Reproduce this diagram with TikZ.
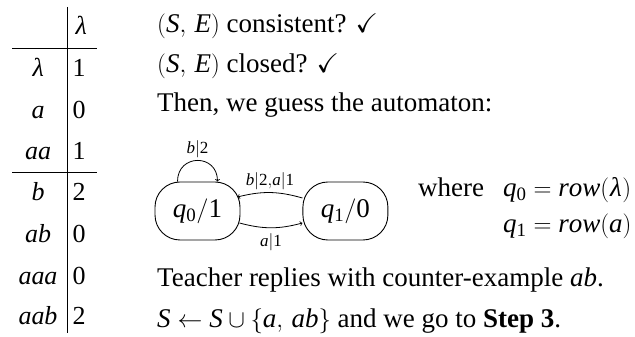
\documentclass[tikz,border=0pt]{standalone}
\usepackage{amssymb}
\usepackage{mathspec}
\setmainfont{Liberation Serif}
\setmathsfont(Digits,Latin,Greek){Liberation Serif}
\usetikzlibrary{positioning, calc}
\tikzset{
  txt/.style      = {anchor=base west, inner sep=0pt, font=\fontsize{27}{32}\selectfont},
  cell/.style     = {anchor=base, inner sep=0pt, font=\fontsize{26}{31}\selectfont},
  statebox/.style = {draw, rounded corners=25pt, minimum width=85pt, minimum height=58pt,
                     line width=0.9pt, font=\fontsize{27}{32}\selectfont},
  trans/.style    = {->, line width=0.8pt},
  elbl/.style     = {font=\fontsize{17}{20}\selectfont, inner sep=2pt},
  tabrule/.style  = {line width=0.7pt},
}
\begin{document}
\begin{tikzpicture}[x=1pt, y=1pt]
\useasboundingbox (0,0) rectangle (635,337);
% observation table
\draw[tabrule] (67,330) -- (67,4);
\draw[tabrule] (12,289) -- (97,289);
\draw[tabrule] (12,165) -- (97,165);
\node[cell] (hd) at (81,302) {$\lambda$};
\foreach \w/\v/\y [count=\i] in {\lambda/1/77, a/0/119, aa/1/160, b/2/201,
                                 ab/0/243, aaa/0/285, aab/2/325} {
  \node[cell] (w\i) at (38,337-\y) {$\w$};
  \node[cell] (v\i) at (79,337-\y) {$\v$};
}
% the steps
\node[txt] (cons)  at (157,304) {$(S,\,E)$ consistent? $\checkmark$};
\node[txt] (clos)  at (157,264) {$(S,\,E)$ closed? $\checkmark$};
\node[txt] (guess) at (157,225) {Then, we guess the automaton:};
\node[txt] (cex)   at (157,50)  {Teacher replies with counter-example $ab$.};
\node[txt] (upd)   at (157,9)   {$S \leftarrow S \cup \{a,\, ab\}$ and we go to \textbf{Step 3}.};
% guessed automaton
\node[statebox] (q0) at (197.5,126) {$q_0/1$};
\node[statebox, right=62pt of q0] (q1) {$q_1/0$};
\draw[trans] ([xshift=-20pt]q0.north) to[out=90, in=90, looseness=1.8]
  node[elbl, above] {$b|2$} ([xshift=20pt]q0.north);
\draw[trans] ([yshift=13pt]q1.west) to[bend right=15]
  node[elbl, above] {$b|2{,}a|1$} ([shift={(-3pt,14pt)}]q0.east);
\draw[trans] ([shift={(-1pt,-12pt)}]q0.east) to[bend right=15]
  node[elbl, below=3pt] {$a|1$} ([yshift=-12pt]q1.west);
\node[txt] (where) at (418,140) {where};
\node[txt] (r0)    at (503,140) {$q_0 = row(\lambda)$};
\node[txt] (r1)    at (503,104) {$q_1 = row(a)$};
\end{tikzpicture}
\end{document}
